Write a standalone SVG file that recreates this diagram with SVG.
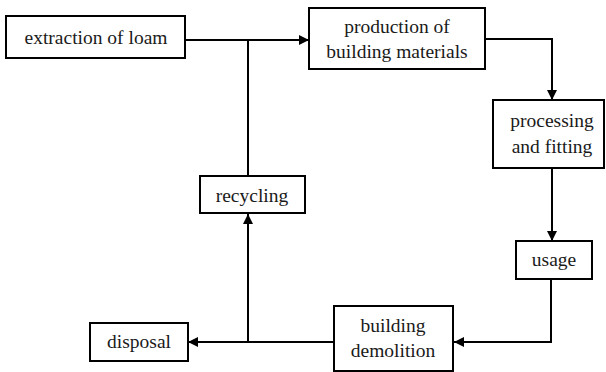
<svg xmlns="http://www.w3.org/2000/svg" width="606" height="372" viewBox="0 0 606 372">
<style>
.box{fill:#fff;stroke:#000;stroke-width:2}
.lbl{font-size:19.5px;fill:#1a1a1a;text-anchor:middle}
.con{fill:none;stroke:#000;stroke-width:2}
</style>
<defs>
<marker id="arr" markerWidth="10" markerHeight="10" refX="10" refY="5" orient="auto" markerUnits="userSpaceOnUse">
<path d="M0,0 L10,5 L0,10 Z" fill="#000"/>
</marker>
</defs>
<rect width="606" height="372" fill="#fff"/>
<g id="connectors">
<path class="con" d="M185,40 H309" marker-end="url(#arr)"/>
<path class="con" d="M248,176 V40"/>
<path class="con" d="M485,39 H552 V100" marker-end="url(#arr)"/>
<path class="con" d="M552,168 V241" marker-end="url(#arr)"/>
<path class="con" d="M551,279 V342 H454" marker-end="url(#arr)"/>
<path class="con" d="M334,342 H188" marker-end="url(#arr)"/>
<path class="con" d="M248,342 V214" marker-end="url(#arr)"/>
</g>
<g font-family="Liberation Serif, DejaVu Serif, serif">
<g id="extraction">
<rect class="box" x="6" y="16" width="179" height="42"/>
<text class="lbl" x="96" y="44">extraction of loam</text>
</g>
<g id="production">
<rect class="box" x="309" y="8" width="176" height="61"/>
<text class="lbl" x="397" y="33">production of</text>
<text class="lbl" x="397" y="58">building materials</text>
</g>
<g id="processing">
<rect class="box" x="493" y="100" width="111" height="68"/>
<text class="lbl" x="552" y="127">processing</text>
<text class="lbl" x="552" y="153">and fitting</text>
</g>
<g id="usage">
<rect class="box" x="516" y="241" width="76" height="38"/>
<text class="lbl" x="554" y="266">usage</text>
</g>
<g id="demolition">
<rect class="box" x="334" y="306" width="119" height="65"/>
<text class="lbl" x="393" y="332">building</text>
<text class="lbl" x="393" y="357">demolition</text>
</g>
<g id="recycling">
<rect class="box" x="200" y="176" width="105" height="37"/>
<text class="lbl" x="252" y="202">recycling</text>
</g>
<g id="disposal">
<rect class="box" x="90" y="323" width="98" height="38"/>
<text class="lbl" x="139" y="348">disposal</text>
</g>
</g>
</svg>
